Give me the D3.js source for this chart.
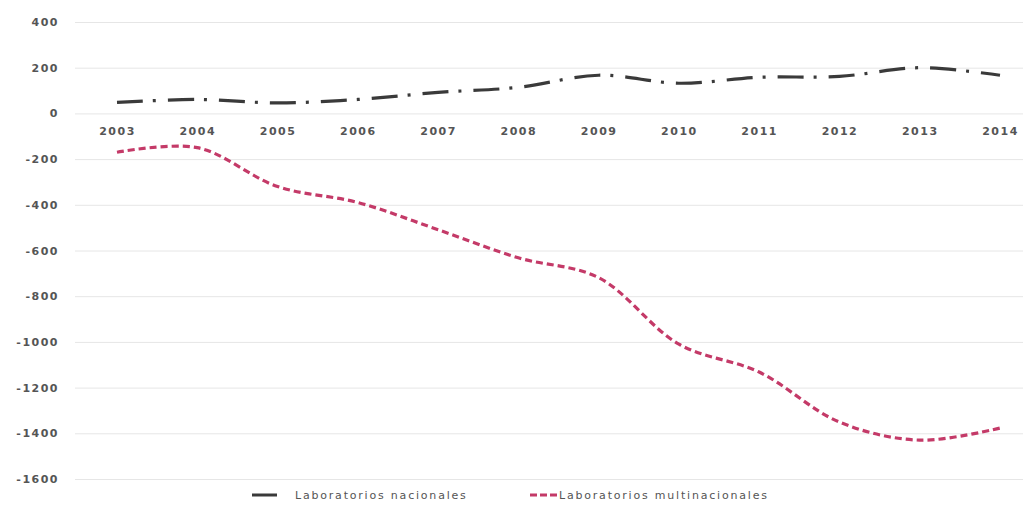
<!DOCTYPE html>
<html>
<head>
<meta charset="utf-8">
<script src="https://cdn.jsdelivr.net/npm/d3@7"></script>
<style>
  body { margin: 0; background: #fff; }
  text { font-family: "DejaVu Sans", sans-serif; fill: #555; }
</style>
</head>
<body>
<div id="chart"></div>
<script>
var years = ["2003","2004","2005","2006","2007","2008","2009","2010","2011","2012","2013","2014"];
var nacionales = [48, 61, 46, 61, 92, 114, 167, 132, 158, 162, 200, 167];
var multinacionales = [-170, -150, -320, -390, -509, -632, -719, -1010, -1132, -1351, -1430, -1377];
var seriesNames = ["Laboratorios nacionales", "Laboratorios multinacionales"];
var yTicks = [400, 200, 0, -200, -400, -600, -800, -1000, -1200, -1400, -1600];

var w = 1023, h = 512;

var svg = d3.select("#chart")
      .append("svg")
      .attr("width", w)
      .attr("height", h);

var x = d3.scalePoint().domain(years).range([117, 1000]);
var y = d3.scaleLinear().domain([-1600, 400]).range([479, 22]);

// gridlines + y labels
var yAxis = svg.append("g")
      .attr("transform", "translate(75,0)")
      .call(d3.axisLeft(y).tickValues(yTicks).tickSize(-(w - 75)).tickPadding(16)
        .tickFormat(function(d){ return d; }));
yAxis.select(".domain").remove();
yAxis.selectAll("line").attr("stroke", "#e6e6e6");
yAxis.selectAll("text")
    .style("font-size", "11px")
    .style("font-weight", "bold")
    .style("letter-spacing", "1.5px");

// year labels just under zero
var xAxis = svg.append("g")
      .attr("transform", "translate(0," + y(0) + ")")
      .call(d3.axisBottom(x).tickSize(0).tickPadding(14));
xAxis.select(".domain").remove();
xAxis.selectAll("text")
    .style("font-size", "11px")
    .style("font-weight", "bold")
    .style("letter-spacing", "1.5px");

var line = d3.line()
      .x(function(d, i){ return x(years[i]); })
      .y(function(d){ return y(d); })
      .curve(d3.curveCatmullRom.alpha(0.5));

var styles = [
  {color: "#3a3a3a", dash: "26,10,3,12"},
  {color: "#c43a68", dash: "7,4"}
];

svg.append("path")
    .datum(nacionales)
    .attr("fill", "none")
    .attr("stroke", styles[0].color)
    .attr("stroke-width", 3.2)
    .attr("stroke-dasharray", styles[0].dash)
    .attr("d", line);

svg.append("path")
    .datum(multinacionales)
    .attr("fill", "none")
    .attr("stroke", styles[1].color)
    .attr("stroke-width", 3.2)
    .attr("stroke-dasharray", styles[1].dash)
    .attr("d", line);

// legend
var legendX = [252, 530];
var legend = svg.selectAll("g.legend")
      .data(seriesNames)
      .enter()
      .append("g")
      .attr("class", "legend")
      .attr("transform", function(d, i){ return "translate(" + legendX[i] + ",499)"; });

legend.append("line")
    .attr("x1", 0).attr("x2", function(d, i){ return i == 0 ? 25 : 27; })
    .attr("y1", -4).attr("y2", -4)
    .attr("stroke", function(d, i){ return styles[i].color; })
    .attr("stroke-width", 3)
    .attr("stroke-dasharray", function(d, i){ return i == 0 ? null : "7,3"; });

legend.append("text")
    .attr("x", function(d, i){ return i == 0 ? 43 : 29; })
    .attr("y", 0)
    .style("font-size", "11px")
    .style("letter-spacing", "1.8px")
    .text(function(d){ return d; });
</script>
</body>
</html>
